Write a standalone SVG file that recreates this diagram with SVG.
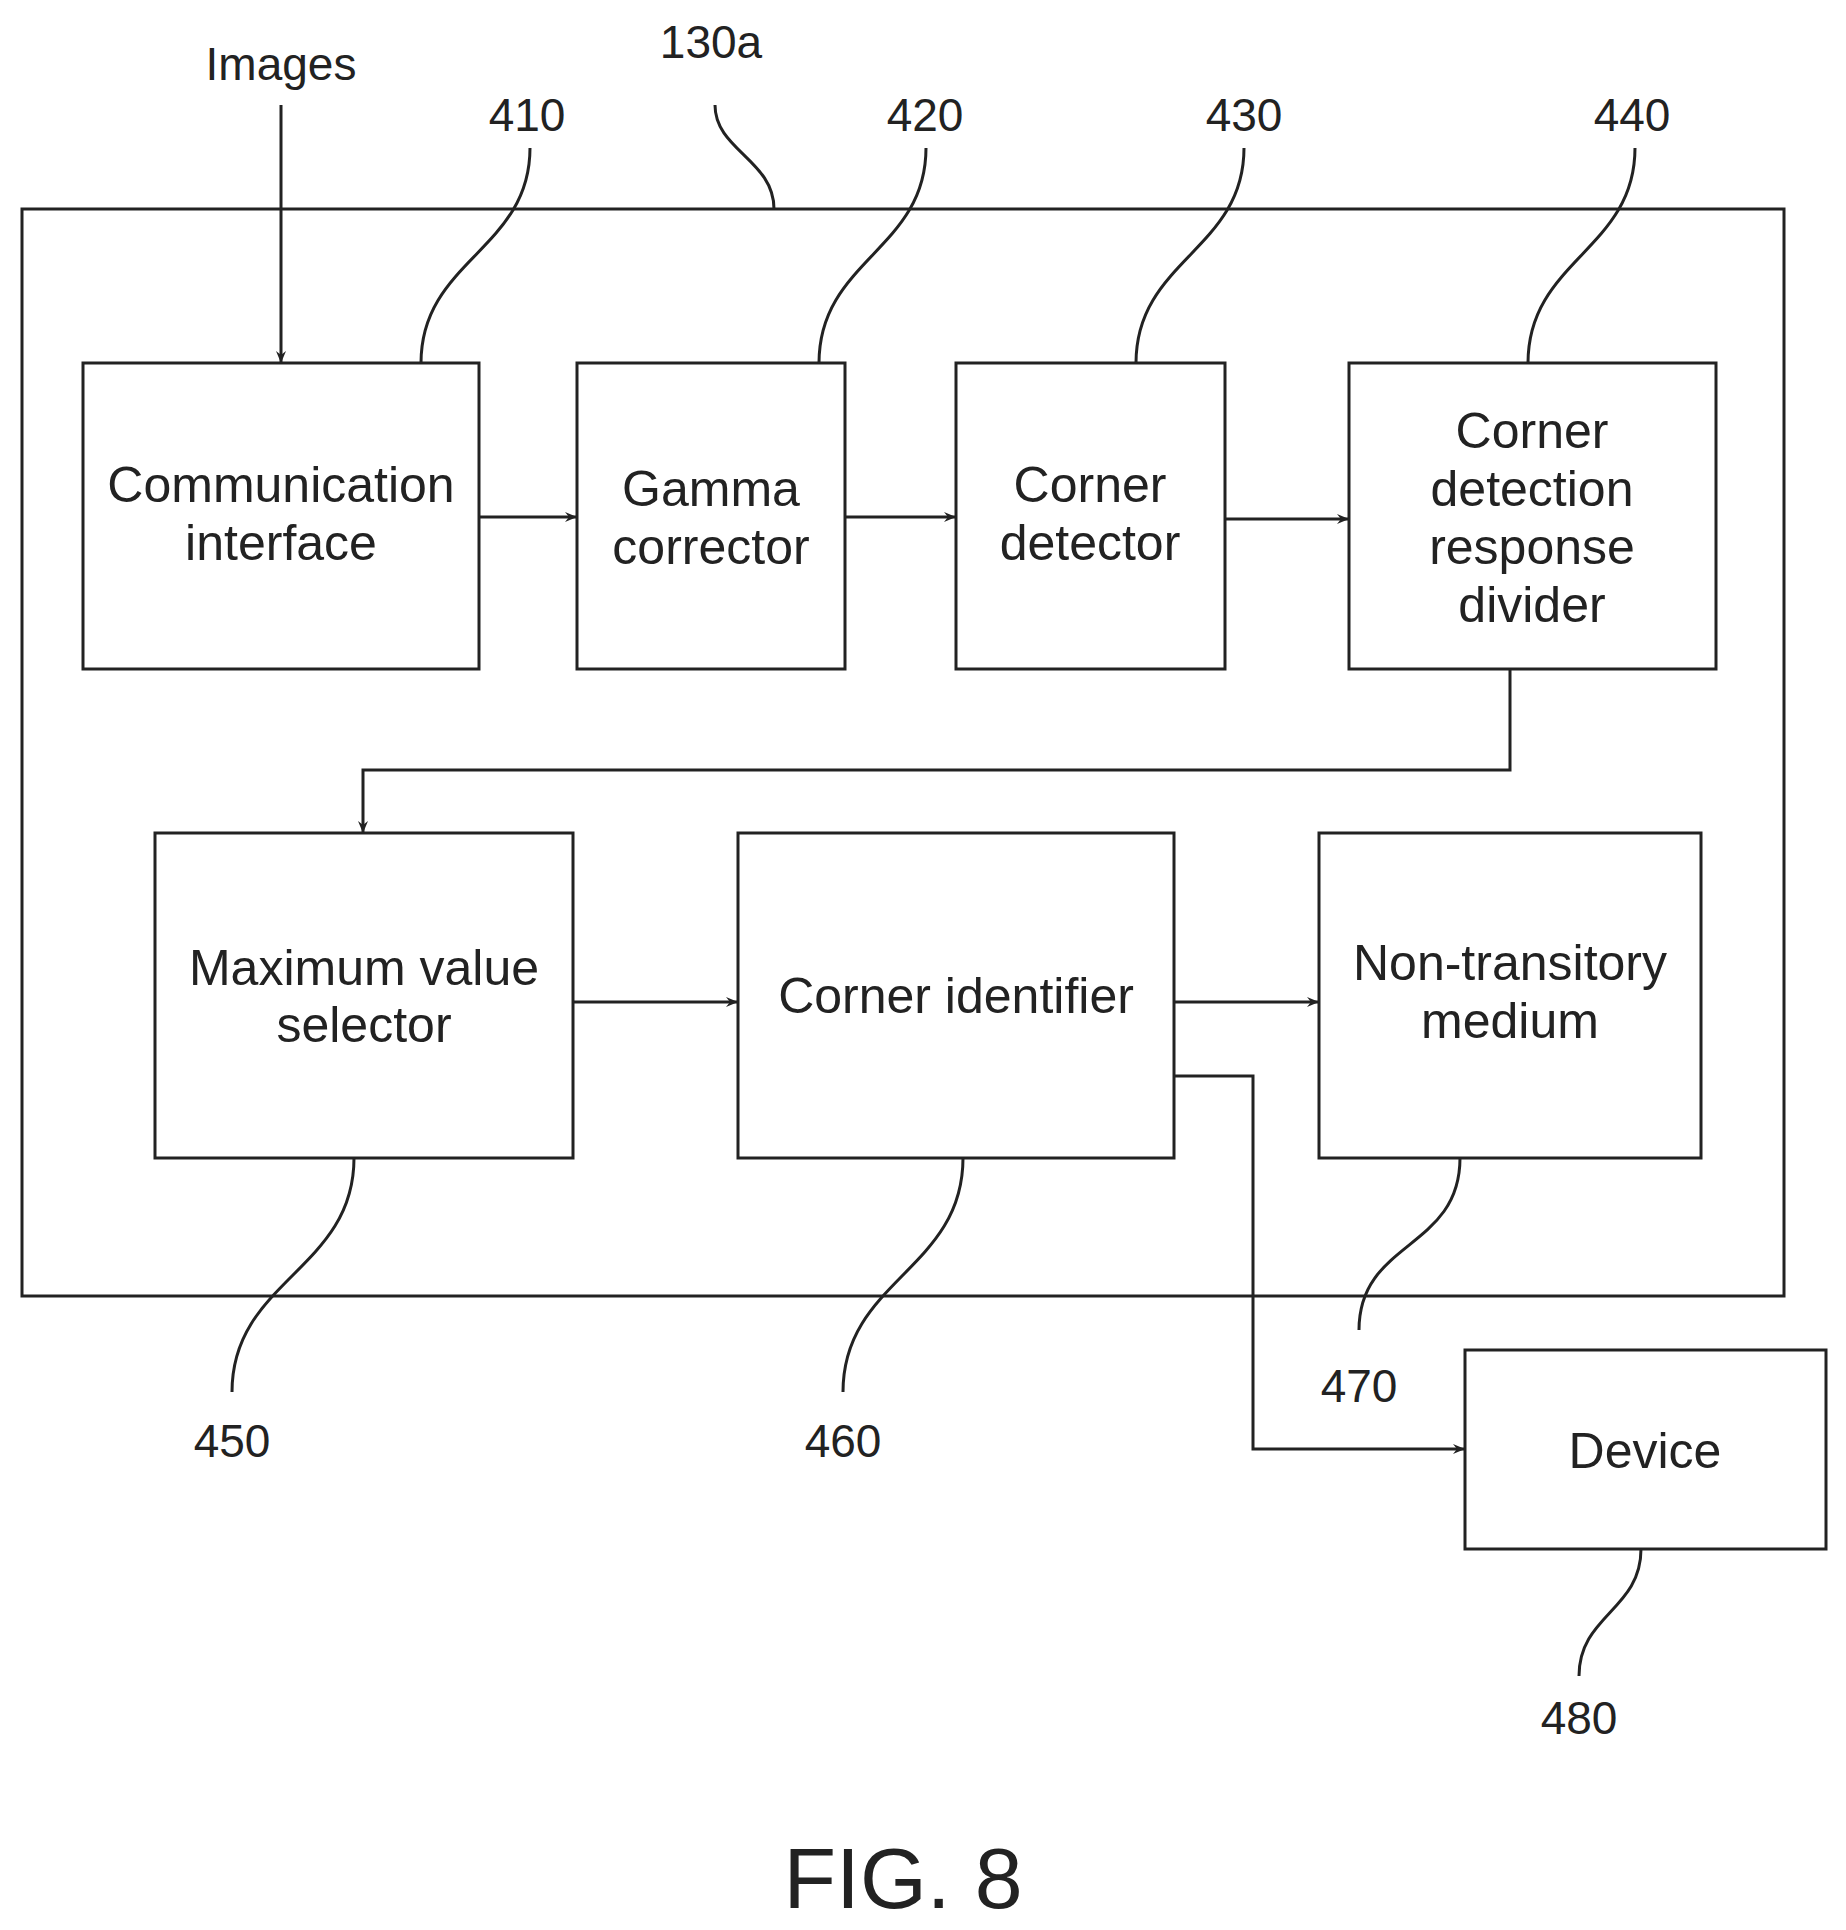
<svg xmlns="http://www.w3.org/2000/svg" width="1846" height="1930" viewBox="0 0 1846 1930">
<style>
.b{fill:#fff;stroke:#222;stroke-width:3}
.l{fill:none;stroke:#222;stroke-width:3}
.t{font-family:"Liberation Sans",Arial,sans-serif;font-size:50px;fill:#222;text-anchor:middle}
.n{font-family:"Liberation Sans",Arial,sans-serif;font-size:46px;fill:#222;text-anchor:middle}
</style>
<defs><marker id="a" viewBox="0 0 12 10" refX="12" refY="5" markerWidth="12" markerHeight="10" markerUnits="userSpaceOnUse" orient="auto"><path d="M0,0 L12,5 L0,10 L4,5 Z" fill="#222"/></marker></defs>
<rect x="0" y="0" width="1846" height="1930" fill="#fff"/>
<g id="outer"><rect class="b" x="22" y="209" width="1762" height="1087" fill="none"/></g>
<g id="n410"><rect class="b" x="83" y="363" width="396" height="306"/><text class="t" x="281" y="502">Communication</text><text class="t" x="281" y="560">interface</text></g>
<g id="n420"><rect class="b" x="577" y="363" width="268" height="306"/><text class="t" x="711" y="506">Gamma</text><text class="t" x="711" y="564">corrector</text></g>
<g id="n430"><rect class="b" x="956" y="363" width="269" height="306"/><text class="t" x="1090" y="502">Corner</text><text class="t" x="1090" y="560">detector</text></g>
<g id="n440"><rect class="b" x="1349" y="363" width="367" height="306"/><text class="t" x="1532" y="448">Corner</text><text class="t" x="1532" y="506">detection</text><text class="t" x="1532" y="564">response</text><text class="t" x="1532" y="622">divider</text></g>
<g id="n450"><rect class="b" x="155" y="833" width="418" height="325"/><text class="t" x="364" y="985">Maximum value</text><text class="t" x="364" y="1042">selector</text></g>
<g id="n460"><rect class="b" x="738" y="833" width="436" height="325"/><text class="t" x="956" y="1013">Corner identifier</text></g>
<g id="n470"><rect class="b" x="1319" y="833" width="382" height="325"/><text class="t" x="1510" y="980">Non-transitory</text><text class="t" x="1510" y="1038">medium</text></g>
<g id="n480"><rect class="b" x="1465" y="1350" width="361" height="199"/><text class="t" x="1645" y="1468">Device</text></g>
<g id="connectors">
<path class="l" d="M281,105 V363" marker-end="url(#a)"/>
<path class="l" d="M479,517 H577" marker-end="url(#a)"/>
<path class="l" d="M845,517 H956" marker-end="url(#a)"/>
<path class="l" d="M1225,519 H1349" marker-end="url(#a)"/>
<path class="l" d="M1510,669 V770 H363 V833" marker-end="url(#a)"/>
<path class="l" d="M573,1002 H738" marker-end="url(#a)"/>
<path class="l" d="M1174,1002 H1319" marker-end="url(#a)"/>
<path class="l" d="M1174,1076 H1253 V1449 H1465" marker-end="url(#a)"/>
</g>
<g id="labels">
<text class="n" x="281" y="80">Images</text>
<text class="n" x="711" y="58">130a</text>
<path class="l" d="M715,105 C715,150 774,160 774,209"/>
<text class="n" x="527" y="131">410</text>
<path class="l" d="M530,148 C530,250 421,260 421,363"/>
<text class="n" x="925" y="131">420</text>
<path class="l" d="M926,148 C926,250 819,260 819,363"/>
<text class="n" x="1244" y="131">430</text>
<path class="l" d="M1244,148 C1244,250 1136,260 1136,363"/>
<text class="n" x="1632" y="131">440</text>
<path class="l" d="M1635,148 C1635,250 1528,260 1528,363"/>
<text class="n" x="232" y="1457">450</text>
<path class="l" d="M354,1158 C354,1270 232,1280 232,1392"/>
<text class="n" x="843" y="1457">460</text>
<path class="l" d="M963,1158 C963,1270 843,1280 843,1392"/>
<text class="n" x="1359" y="1402">470</text>
<path class="l" d="M1460,1158 C1460,1250 1359,1240 1359,1330"/>
<text class="n" x="1579" y="1734">480</text>
<path class="l" d="M1641,1549 C1641,1610 1579,1615 1579,1676"/>
<text class="t" x="903" y="1908" style="font-size:86px">FIG. 8</text>
</g>
</svg>
